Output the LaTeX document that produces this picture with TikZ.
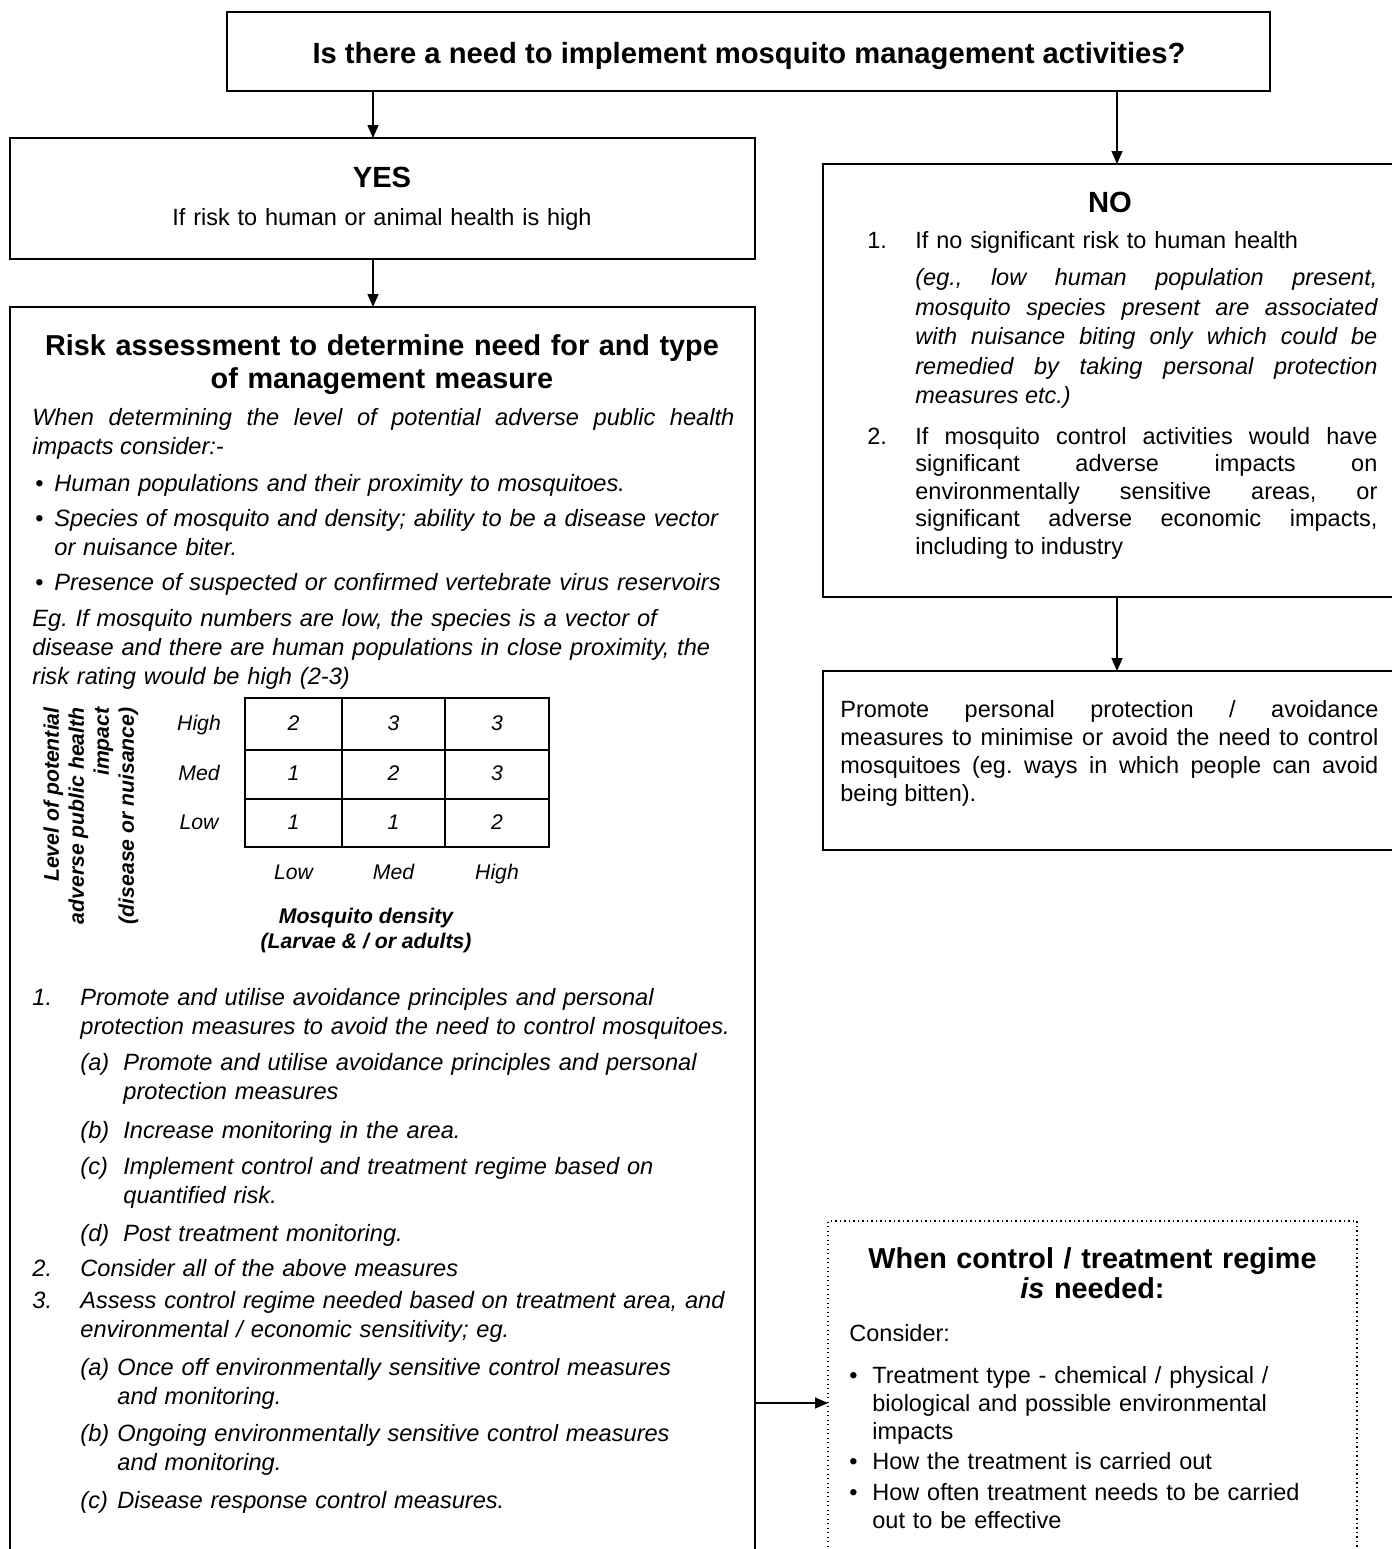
\documentclass[tikz,border=0pt]{standalone}
\usepackage{fontspec}
\setmainfont{Liberation Sans}
\usetikzlibrary{arrows.meta,fit}
\tolerance=9999
\hyphenpenalty=10000

\begin{document}
\frenchspacing
\begin{tikzpicture}[x=0.5pt,y=-0.5pt,
  box/.style={draw,line width=1pt,inner sep=0pt,outer sep=0pt},
  dotbox/.style={draw,line width=0.6pt,dash pattern=on 0.6pt off 1.65pt,inner sep=0pt,outer sep=0pt},
  arr/.style={line width=0.65pt,-{Triangle[length=6.5pt,width=5.5pt]}},
  hdr/.style={font=\fontsize{14.6}{16.5}\selectfont\bfseries,inner sep=0pt,align=center,anchor=base},
  txt/.style={font=\fontsize{11.75}{14}\selectfont,inner sep=0pt,anchor=base west,text width=300pt,align=left},
  itl/.style={font=\fontsize{11.8}{14.5}\selectfont\itshape,inner sep=0pt,anchor=base west,text width=360pt,align=left},
  mtx/.style={font=\fontsize{10.6}{12.5}\selectfont\itshape,inner sep=0pt,text height=1.6ex,text depth=0.4ex},
  mtxb/.style={font=\fontsize{10.6}{12.5}\selectfont\bfseries\itshape,inner sep=0pt,align=center}]
  \useasboundingbox (0,0) rectangle (1392,1549);
  \fill[white] (0,0) rectangle (1392,1549);
  \clip (0,0) rectangle (1392,1549);

  % boxes
  \node[box,fit={(227,12) (1270,91)}] (need) {};
  \node[box,fit={(10,138) (755,259)}] (yes) {};
  \node[box,fit={(10,307) (755,1580)}] (risk) {};
  \node[box,fit={(823,164) (1420,597)}] (no) {};
  \node[box,fit={(823,671) (1420,850)}] (prom) {};
  \node[dotbox,fit={(828,1221) (1357,1580)}] (treat) {};

  % connectors
  \coordinate (lx) at (373,0);
  \coordinate (rx) at (1117,0);
  \coordinate (ay) at (0,1403);
  \draw[arr] (need.south -| lx) -- (yes.north -| lx);
  \draw[arr] (need.south -| rx) -- (no.north -| rx);
  \draw[arr] (yes.south -| lx) -- (risk.north -| lx);
  \draw[arr] (no.south -| rx) -- (prom.north -| rx);
  \draw[arr] (risk.east |- ay) -- (treat.west |- ay);

  \node[hdr] (needt) at (749,63) {Is there a need to implement mosquito management activities?};

  \node[hdr] (yesh) at (382,187) {YES};
  \node[txt,anchor=base,align=center] (yest) at (382,225) {If risk to human or animal health is high};

  % risk assessment
  \node[hdr,font=\fontsize{14.4}{16.5}\selectfont\bfseries,text width=360pt] (riskh) at (382,355) {Risk assessment to determine need for and type\\of management measure};
  \node[itl,text width=351pt,align=justify] (when) at (32,425)
    {When determining the level of potential adverse public health\linebreak impacts consider:-};
  \node[txt] (bd1) at (35,491) {•};
  \node[itl] (bt1) at (54,491) {Human populations and their proximity to mosquitoes.};
  \node[txt] (bd2) at (35,526) {•};
  \node[itl] (bt2) at (54,526) {Species of mosquito and density; ability to be a disease vector\\or nuisance biter.};
  \node[txt] (bd3) at (35,590) {•};
  \node[itl] (bt3) at (54,590) {Presence of suspected or confirmed vertebrate virus reservoirs};
  \node[itl] (eg) at (32,626) {Eg. If mosquito numbers are low, the species is a vector of\\disease and there are human populations in close proximity, the\\risk rating would be high (2-3)};

  % rating matrix
  \draw[line width=1pt] (245,698) rectangle (549,847);
  \draw[line width=1pt] (342,698) -- (342,847) (445,698) -- (445,847);
  \draw[line width=1pt] (245,750) -- (549,750) (245,799) -- (549,799);
  \foreach \ry/\a/\b/\c [count=\i] in {724/2/3/3,774.5/1/2/3,823/1/1/2} {
    \node[mtx] (m\i a) at (293.5,\ry) {\a};
    \node[mtx] (m\i b) at (393.5,\ry) {\b};
    \node[mtx] (m\i c) at (497,\ry) {\c};
  }
  \node[mtx] (rhi) at (199,724) {High};
  \node[mtx] (rme) at (199,774.5) {Med};
  \node[mtx] (rlo) at (199,823) {Low};
  \node[mtx] (clo) at (293.5,873) {Low};
  \node[mtx] (cme) at (393.5,873) {Med};
  \node[mtx] (chi) at (497,873) {High};
  \node[mtxb] (dens) at (366,931) {Mosquito density\\(Larvae \& / or adults)};
  \node[mtxb,align=right,rotate=90,anchor=north east] (lvl) at (43,707)
    {Level of potential\\adverse public health\\impact\\(disease or nuisance)};

  % measures
  \node[itl] (n1) at (32,1005) {1.};
  \node[itl] (t1) at (80,1005) {Promote and utilise avoidance principles and personal\\protection measures to avoid the need to control mosquitoes.};
  \node[itl] (la) at (80,1070) {(a)};
  \node[itl] (ta) at (123,1070) {Promote and utilise avoidance principles and personal\\protection measures};
  \node[itl] (lb) at (80,1138) {(b)};
  \node[itl] (tb) at (123,1138) {Increase monitoring in the area.};
  \node[itl] (lc) at (80,1174) {(c)};
  \node[itl] (tc) at (123,1174) {Implement control and treatment regime based on\\quantified risk.};
  \node[itl] (ld) at (80,1241) {(d)};
  \node[itl] (td) at (123,1241) {Post treatment monitoring.};
  \node[itl] (n2) at (32,1276) {2.};
  \node[itl] (t2) at (80,1276) {Consider all of the above measures};
  \node[itl] (n3) at (32,1308) {3.};
  \node[itl] (t3) at (80,1308) {Assess control regime needed based on treatment area, and\\environmental / economic sensitivity; eg.};
  \node[itl] (ma) at (80,1375) {(a)};
  \node[itl] (mta) at (117,1375) {Once off environmentally sensitive control measures\\and monitoring.};
  \node[itl] (mb) at (80,1441) {(b)};
  \node[itl] (mtb) at (117,1441) {Ongoing environmentally sensitive control measures\\and monitoring.};
  \node[itl] (mc) at (80,1508) {(c)};
  \node[itl] (mtc) at (117,1508) {Disease response control measures.};

  % no branch
  \node[hdr] (noh) at (1110,212) {NO};
  \node[txt] (r1n) at (867,248) {1.};
  \node[txt] (r1t) at (915,248) {If no significant risk to human health};
  \node[txt,font=\fontsize{11.75}{14.75}\selectfont\itshape,text width=231pt,align=justify] (r1e) at (915,285.5)
    {(eg., low human population present,\linebreak mosquito species present are associated\linebreak with nuisance biting only which could be\linebreak remedied by taking personal protection\linebreak measures etc.)};
  \node[txt] (r2n) at (867,444) {2.};
  \node[txt,font=\fontsize{11.75}{13.75}\selectfont,text width=231pt,align=justify] (r2t) at (915,444)
    {If mosquito control activities would have\linebreak significant adverse impacts on\linebreak environmentally sensitive areas, or\linebreak significant adverse economic impacts,\linebreak including to industry};
  \node[txt,text width=269pt,align=justify] (promt) at (840,717)
    {Promote personal protection / avoidance\linebreak measures to minimise or avoid the need to control\linebreak mosquitoes (eg. ways in which people can avoid\linebreak being bitten).};

  % treatment box
  \node[hdr,font=\fontsize{14.4}{15}\selectfont\bfseries,text width=260pt] (treath) at (1092.5,1268) {When control / treatment regime\\\textit{is} needed:};
  \node[txt] (cons) at (849,1341) {Consider:};
  \node[txt] (td1) at (849,1383) {•};
  \node[txt] (tt1) at (872,1383) {Treatment type - chemical / physical /\\biological and possible environmental\\impacts};
  \node[txt] (td2) at (849,1469) {•};
  \node[txt] (tt2) at (872,1469) {How the treatment is carried out};
  \node[txt] (td3) at (849,1500) {•};
  \node[txt] (tt3) at (872,1500) {How often treatment needs to be carried\\out to be effective};
\end{tikzpicture}
\end{document}
